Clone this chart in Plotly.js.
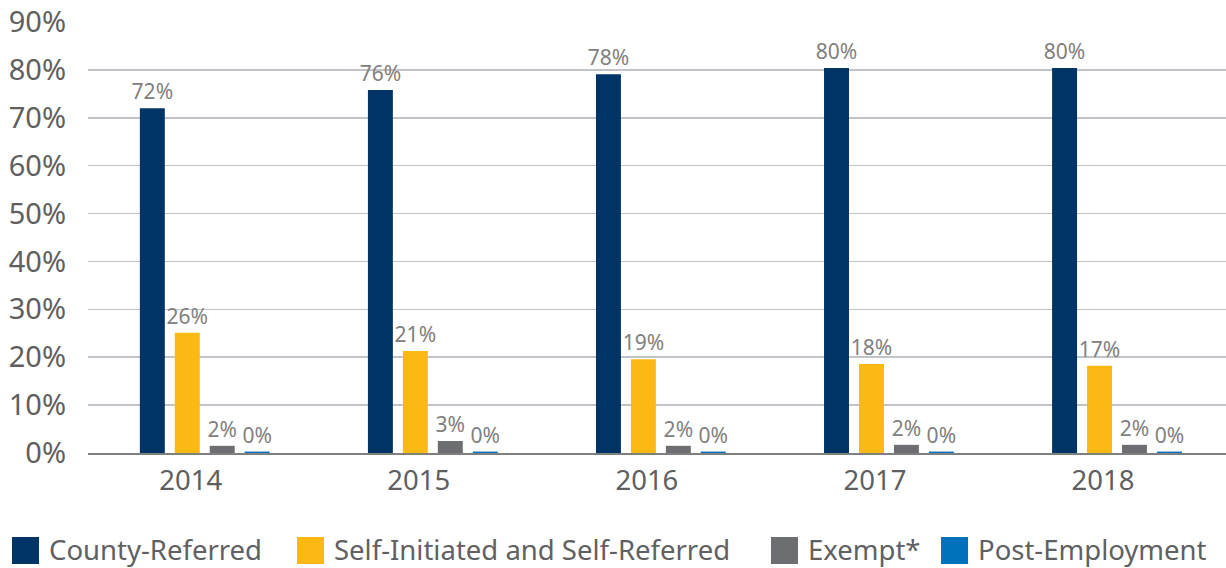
<!DOCTYPE html>
<html>
<head>
<meta charset="utf-8">
<script src="https://cdn.plot.ly/plotly-3.0.1.min.js"></script>
<style>html,body{margin:0;padding:0;background:#fff;}#chart{width:1226px;height:568px;}</style>
</head>
<body>
<div id="chart"></div>
<script>
const years = ['2014', '2015', '2016', '2017', '2018'];
const seriesNames = ['County-Referred', 'Self-Initiated and Self-Referred', 'Exempt*', 'Post-Employment'];
const countyReferred = [72.0, 75.8, 79.1, 80.4, 80.4];
const selfReferred = [25.1, 21.3, 19.6, 18.6, 18.2];
const exempt = [1.5, 2.5, 1.5, 1.7, 1.7];
const postEmployment = [0.3, 0.3, 0.3, 0.3, 0.3];
const countyLabels = ['72%', '76%', '78%', '80%', '80%'];
const selfLabels = ['26%', '21%', '19%', '18%', '17%'];
const exemptLabels = ['2%', '3%', '2%', '2%', '2%'];
const postLabels = ['0%', '0%', '0%', '0%', '0%'];
const yTicks = [0, 10, 20, 30, 40, 50, 60, 70, 80, 90];

const colors = ['#003366', '#FDB913', '#6D6E71', '#0071BC'];
const FONT = 'Noto Sans, sans-serif';
const values = [countyReferred, selfReferred, exempt, postEmployment];
const labels = [countyLabels, selfLabels, exemptLabels, postLabels];

const traces = values.map((v, i) => ({
  type: 'bar',
  name: seriesNames[i],
  x: years,
  y: v,
  text: labels[i],
  textposition: 'outside',
  constraintext: 'none',
  cliponaxis: false,
  textfont: {family: FONT, size: 21, color: '#808080'},
  marker: {color: colors[i]},
  hoverinfo: 'x+y+name',
  showlegend: false
}));

// custom legend built from series names
const legendX = [12, 297, 771, 941];
const W = 1226, H = 568;
const shapes = [];
const annotations = [];
seriesNames.forEach((n, i) => {
  shapes.push({type: 'rect', xref: 'paper', yref: 'paper',
    x0: (legendX[i] - 88) / (W - 88), x1: (legendX[i] + 27 - 88) / (W - 88),
    y0: -(564 - 453) / (453 - 22), y1: -(537 - 453) / (453 - 22),
    fillcolor: colors[i], line: {width: 0}});
  annotations.push({xref: 'paper', yref: 'paper',
    x: (legendX[i] + 35 - 88) / (W - 88), y: -(549 - 453) / (453 - 22),
    xanchor: 'left', yanchor: 'middle', showarrow: false,
    text: n, font: {family: FONT, size: 27.5, color: '#5F6062'}});
});

const layout = {
  width: W, height: H,
  margin: {l: 88, r: 0, t: 22, b: 115},
  paper_bgcolor: '#fff', plot_bgcolor: '#fff',
  barmode: 'group',
  bargap: 0.387,
  bargroupgap: 0.286,
  showlegend: false,
  font: {family: FONT, color: '#595959'},
  xaxis: {
    type: 'category',
    range: [-0.512, 4.478],
    showgrid: false,
    showline: true, linecolor: '#7F7F7F', linewidth: 1.5,
    ticks: '',
    tickfont: {family: FONT, size: 27.5, color: '#5F5F5F'},
    ticklabelstandoff: 2,
    ticklabelshift: -14,
    zeroline: false
  },
  yaxis: {
    range: [0, 90],
    tickvals: yTicks,
    ticktext: yTicks.map(t => t + '%'),
    showgrid: true, gridcolor: '#C0C4C8', gridwidth: 1.5,
    zeroline: false,
    showline: false,
    ticks: '',
    tickfont: {family: FONT, size: 29, color: '#5F5F5F'},
    ticklabelstandoff: 21
  },
  shapes: shapes,
  annotations: annotations
};

Plotly.newPlot('chart', traces, layout, {displayModeBar: false, staticPlot: true});
</script>
</body>
</html>
